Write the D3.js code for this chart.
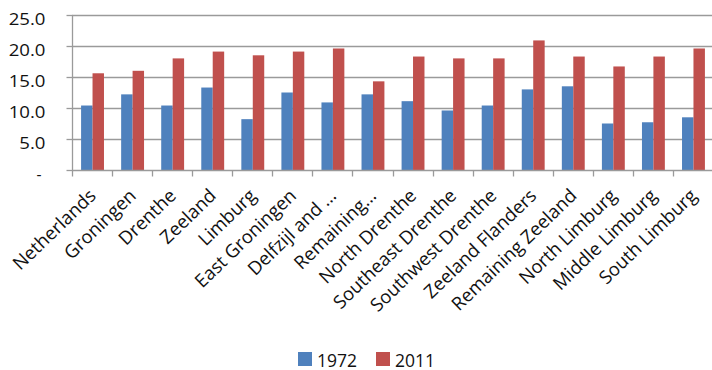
<!DOCTYPE html>
<html>
<head>
<meta charset="utf-8">
<script src="https://cdn.jsdelivr.net/npm/d3@7"></script>
<style>
  html, body { margin: 0; padding: 0; background: #fff; }
  svg { display: block; font-family: "Open Sans", "DejaVu Sans", sans-serif; }
</style>
</head>
<body>
<svg id="chart" width="712" height="370"></svg>
<script>
// Regions of the Netherlands, values for 1972 and 2011
const categories = [
  "Netherlands", "Groningen", "Drenthe", "Zeeland", "Limburg",
  "East Groningen", "Delfzijl and …", "Remaining…", "North Drenthe",
  "Southeast Drenthe", "Southwest Drenthe", "Zeeland Flanders",
  "Remaining Zeeland", "North Limburg", "Middle Limburg", "South Limburg"
];
const series = ["1972", "2011"];
const values1972 = [10.4, 12.2, 10.4, 13.3, 8.2, 12.5, 10.9, 12.2, 11.1, 9.6, 10.4, 13.0, 13.5, 7.5, 7.7, 8.5];
const values2011 = [15.6, 16.0, 18.0, 19.1, 18.5, 19.1, 19.6, 14.3, 18.3, 18.0, 18.0, 20.9, 18.3, 16.7, 18.3, 19.6];
const yTicks = [0, 5, 10, 15, 20, 25];
const colors = ["#4F81BD", "#C0504D"];

const svg = d3.select("#chart");
const plot = { left: 72, right: 713, top: 15, bottom: 170 };

const x0 = d3.scaleBand().domain(categories).range([plot.left, plot.right]).padding(0);
const x1 = d3.scaleBand().domain(series).range([0, x0.bandwidth()])
  .paddingInner(0).paddingOuter(0.75);
const y = d3.scaleLinear().domain([0, 25]).range([plot.bottom, plot.top]);
const color = d3.scaleOrdinal().domain(series).range(colors);

// horizontal gridlines
svg.append("g").selectAll("line").data(yTicks.filter(d => d > 0)).join("line")
  .attr("x1", plot.left).attr("x2", plot.right)
  .attr("y1", d => Math.round(y(d)) + 0.5).attr("y2", d => Math.round(y(d)) + 0.5)
  .attr("stroke", "#9a9a9a").attr("stroke-width", 1.3);

// bars
const rows = categories.map((c, i) => ({ c, vals: [values1972[i], values2011[i]] }));
svg.append("g").selectAll("g").data(rows).join("g")
  .attr("transform", d => `translate(${x0(d.c) + 0.5},0)`)
  .selectAll("rect").data(d => series.map((s, j) => ({ s, v: d.vals[j] }))).join("rect")
  .attr("x", d => x1(d.s))
  .attr("width", x1.bandwidth())
  .attr("y", d => y(d.v))
  .attr("height", d => y(0) - y(d.v))
  .attr("fill", d => color(d.s));

// left axis
const yAxis = d3.axisLeft(y).tickValues(yTicks).tickSize(6).tickFormat(d => d === 0 ? "-" : d3.format(".1f")(d));
const gy = svg.append("g").attr("transform", `translate(${plot.left + 0.5},0)`).call(yAxis);
gy.select(".domain").attr("stroke", "#9a9a9a").attr("stroke-width", 1.3).attr("d", `M0,${plot.top}V${plot.bottom}`);
gy.selectAll(".tick line").attr("stroke", "#9a9a9a").attr("stroke-width", 1.3);
gy.selectAll(".tick text")
  .attr("x", d => d === 0 ? -31 : -27)
  .attr("dy", "0.58em")
  .attr("font-size", 15.5)
  .attr("font-family", "Open Sans")
  .attr("fill", "#111")
  .each(function (d) {
    // slightly widened numerals
    if (d !== 0) {
      const w = this.getComputedTextLength();
      d3.select(this).attr("textLength", w * 1.2).attr("lengthAdjust", "spacingAndGlyphs");
    }
  });

// bottom axis with category separators
const xAxis = d3.axisBottom(x0).tickSize(0).tickFormat("");
const gx = svg.append("g").attr("transform", `translate(0,${plot.bottom + 0.5})`).call(xAxis);
gx.select(".domain").attr("stroke", "#9a9a9a").attr("stroke-width", 1.3).attr("d", `M${plot.left},0H${plot.right}`);
gx.selectAll(".tick").remove();
gx.selectAll("line.sep").data(d3.range(categories.length + 1)).join("line")
  .attr("class", "sep")
  .attr("x1", i => Math.round(plot.left + i * x0.step()) + 0.5)
  .attr("x2", i => Math.round(plot.left + i * x0.step()) + 0.5)
  .attr("y1", 0).attr("y2", 6)
  .attr("stroke", "#9a9a9a").attr("stroke-width", 1.3);

// rotated category labels
svg.append("g").selectAll("text").data(categories).join("text")
  .attr("transform", d => `translate(${x0(d) + x0.bandwidth() / 2 + 5},${plot.bottom + 27}) rotate(-44)`)
  .attr("text-anchor", "end")
  .attr("font-size", 18.5)
  .attr("fill", "#111")
  .text(d => d);

// legend
const legend = svg.append("g").attr("transform", "translate(298,352)");
const items = legend.selectAll("g").data(series).join("g")
  .attr("transform", (d, i) => `translate(${i * 78},0)`);
items.append("rect").attr("width", 14).attr("height", 14).attr("fill", d => color(d));
items.append("text").attr("x", 19).attr("y", 14.5).attr("font-size", 17.5).attr("fill", "#111").text(d => d);
</script>
</body>
</html>
